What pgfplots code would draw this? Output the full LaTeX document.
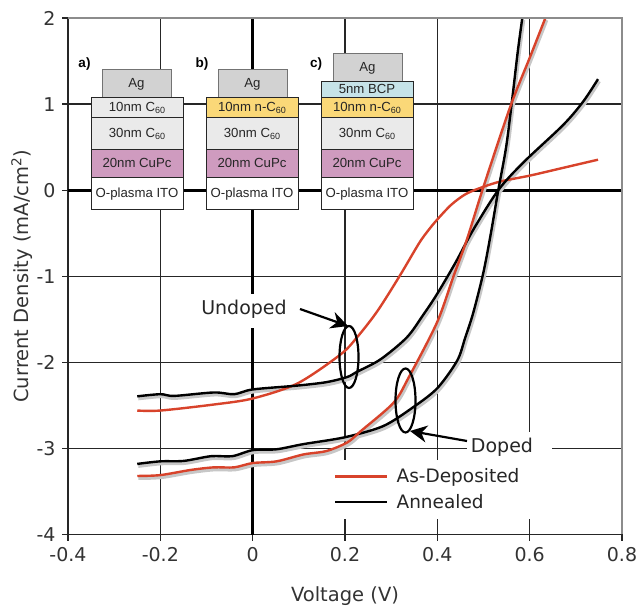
\documentclass[border=0pt]{standalone}
\usepackage{pgfplots}
\pgfplotsset{compat=1.18}
\usepackage{fontspec}
\setmainfont{DejaVu Sans}
\newfontfamily\ar{Liberation Sans}
\usetikzlibrary{arrows.meta}
\definecolor{cred}{HTML}{D8432B}
\definecolor{cag}{HTML}{D2D2D2}
\definecolor{cc}{HTML}{EAEAEA}
\definecolor{cp}{HTML}{CF9BBF}
\definecolor{cn}{HTML}{FAD878}
\definecolor{cb}{HTML}{C6E3E8}
\pgfplotstableread{
x y
-0.25 -2.56
-0.2 -2.56
-0.084 -2.49
0 -2.42
0.097 -2.245
0.19 -1.91
0.226 -1.71
0.27 -1.406
0.318 -1.0
0.36 -0.62
0.38 -0.47
0.40 -0.34
0.43 -0.17
0.46 -0.05
0.49 0.02
0.536 0.10
0.601 0.17
0.673 0.26
0.748 0.354
}\undepo
\pgfplotstableread{
x y
-0.25 -2.395
-0.2 -2.37
-0.17 -2.39
-0.084 -2.35
-0.04 -2.37
0 -2.315
0.097 -2.27
0.16 -2.23
0.205 -2.17
0.226 -2.11
0.277 -1.965
0.334 -1.71
0.37 -1.444
0.399 -1.21
0.439 -0.845
0.478 -0.458
0.532 0
0.586 0.32
0.673 0.76
0.716 1.03
0.748 1.29
}\unann
\pgfplotstableread{
x y
-0.25 -3.32
-0.2 -3.31
-0.134 -3.25
-0.084 -3.22
-0.04 -3.22
0 -3.17
0.052 -3.15
0.11 -3.07
0.16 -3.03
0.205 -2.93
0.234 -2.8
0.305 -2.47
0.338 -2.175
0.399 -1.54
0.435 -1.0
0.464 -0.574
0.5 0.04
0.558 0.97
0.601 1.55
0.634 2
}\dodepo
\pgfplotstableread{
x y
-0.25 -3.18
-0.2 -3.15
-0.149 -3.145
-0.09 -3.09
-0.044 -3.09
0 -3.02
0.052 -3.01
0.11 -2.95
0.2 -2.87
0.283 -2.74
0.348 -2.52
0.4 -2.3
0.443 -1.98
0.46 -1.72
0.478 -1.42
0.5 -0.95
0.516 -0.5
0.532 0
0.549 0.5
0.562 1.05
0.574 1.6
0.584 2
}\doann
\newcommand{\lay}[6]{\fill[#5] (#1pt,607pt-#3pt) rectangle (#2pt,607pt-#4pt);\draw[line width=0.9pt,black!85] (#1pt,607pt-#3pt) rectangle (#2pt,607pt-#4pt);\node[font=\ar\fontsize{13.2}{14}\selectfont,text=black!85,inner sep=0pt,anchor=base] at ({(#1+#2)/2*1pt},{607pt-(#3+#4)/2*1pt-4.6pt}) {#6};}
\newcommand{\Csub}{C\raisebox{-2pt}{\fontsize{9}{9}\selectfont 60}}
\newcommand{\ag}[4]{\fill[cag] (#1pt,607pt-#3pt) rectangle (#2pt,607pt-#4pt);\draw[line width=0.9pt,black!55] (#1pt,607pt-#4pt)--(#1pt,607pt-#3pt)--(#2pt,607pt-#3pt)--(#2pt,607pt-#4pt);\node[font=\ar\fontsize{13.2}{14}\selectfont,text=black!85,inner sep=0pt,anchor=base] at ({(#1+#2)/2*1pt},{607pt-(#3+#4)/2*1pt-4.6pt}) {Ag};}
\begin{document}
\begin{tikzpicture}[x=1pt,y=1pt]
\path[use as bounding box] (0,0) rectangle (639pt,607pt);
\begin{axis}[
  at={(68pt,72.5pt)},anchor=south west,scale only axis,width=554pt,height=516.5pt,
  xmin=-0.4,xmax=0.8,ymin=-4,ymax=2,
  xtick={-0.4,-0.2,0,0.2,0.4,0.6,0.8},
  xticklabels={-0.4,-0.2,0,0.2,0.4,0.6,0.8},
  ytick={-4,-3,-2,-1,0,1,2},
  yticklabels={-4,-3,-2,-1,0,1,2},
  tick pos=left,
  tick label style={font=\fontsize{19}{20}\selectfont,text=black!80},
  xticklabel style={yshift=-3pt},
  yticklabel style={xshift=-3pt},
  label style={font=\fontsize{19.5}{20}\selectfont,text=black!80},
  xlabel={Voltage (V)},
  ylabel={Current Density (mA/cm\textsuperscript{2})},
  xlabel style={at={(axis description cs:0.5,0)},anchor=base,yshift=-66.5pt},
  ylabel style={at={(axis description cs:0,0.5)},anchor=base,yshift=39pt},
  grid=major,
  grid style={line width=1.2pt,black!85},
  axis line style={line width=1.3pt,black!85},
  tick style={line width=1.2pt,black!85},
  tick align=outside,
  major tick length=6pt,
  extra x ticks={0},extra y ticks={0},
  extra x tick labels={},extra y tick labels={},
  extra tick style={grid style={line width=3.2pt,black}},
  line join=round,
  legend style={at={(rel axis cs:0,0)},anchor=south west,xshift=265pt,yshift=15.5pt,draw=none,fill=white,
    font=\fontsize{18.5}{20}\selectfont,text=black!85,inner xsep=1pt,inner ysep=7pt,
    row sep=6pt,cells={anchor=west},text width=139pt},
  legend cell align=left,
  legend image code/.code={\draw[#1,line width=2.4pt] (0pt,0pt)--(52pt,0pt);\path (58pt,0pt);},
  clip=true,
]
\addplot[forget plot,black!22,line width=4pt,smooth,tension=0.5,xshift=1pt,yshift=-2pt] table {\dodepo};
\addplot[forget plot,black!22,line width=4pt,smooth,tension=0.5,xshift=1pt,yshift=-2pt] table {\doann};
\addplot[forget plot,black!22,line width=4pt,smooth,tension=0.5,xshift=1pt,yshift=-2pt] table {\unann};
\addplot[cred,line width=2.4pt,smooth,tension=0.5] table {\undepo};
\addlegendentry{As-Deposited}
\addplot[black,line width=2.4pt,smooth,tension=0.5] table {\unann};
\addlegendentry{Annealed}
\addplot[forget plot,black,line width=2.4pt,smooth,tension=0.5] table {\doann};
\addplot[forget plot,cred,line width=2.4pt,smooth,tension=0.5] table {\dodepo};
\end{axis}
% frame top and right
\draw[line width=1.5pt,black!45] (68pt,607pt-18pt)--(622pt,607pt-18pt)--(622pt,607pt-534.5pt);
% label patches
\fill[white] (198pt,607pt-294pt) rectangle (292pt,607pt-328pt);
\fill[white] (467pt,607pt-432pt) rectangle (552pt,607pt-465pt);
\node[font=\fontsize{19}{20}\selectfont,text=black!85,inner sep=0pt] at (244pt,607pt-309pt) {Undoped};
\node[font=\fontsize{19}{20}\selectfont,text=black!85,inner sep=0pt] at (502pt,607pt-447pt) {Doped};
% ellipses and arrows
\draw[line width=2.2pt,black] (349pt,607pt-357pt) ellipse (9.5pt and 31pt);
\draw[line width=2.2pt,black] (405.5pt,607pt-400.5pt) ellipse (10pt and 32pt);
\draw[line width=2.2pt,black,-{Stealth[length=17pt,width=17pt]}] (300pt,607pt-309pt)--(348pt,607pt-326pt);
\draw[line width=2.2pt,black,-{Stealth[length=17pt,width=17pt]}] (467pt,607pt-441pt)--(410pt,607pt-431pt);
% stacks
\ag{102}{171}{69}{97}
\lay{91}{183}{97}{117}{cc}{10nm \Csub}
\lay{91}{183}{117}{149}{cc}{30nm \Csub}
\lay{91}{183}{149}{177}{cp}{20nm CuPc}
\lay{91}{183}{177}{209}{white}{O-plasma ITO}
\ag{218}{287}{69}{97}
\lay{206}{298}{97}{117}{cn}{10nm n-\Csub}
\lay{206}{298}{117}{149}{cc}{30nm \Csub}
\lay{206}{298}{149}{177}{cp}{20nm CuPc}
\lay{206}{298}{177}{209}{white}{O-plasma ITO}
\ag{333}{402}{53}{81}
\lay{321}{413}{81}{97}{cb}{5nm BCP}
\lay{321}{413}{97}{117}{cn}{10nm n-\Csub}
\lay{321}{413}{117}{149}{cc}{30nm \Csub}
\lay{321}{413}{149}{177}{cp}{20nm CuPc}
\lay{321}{413}{177}{209}{white}{O-plasma ITO}
\node[font=\ar\bfseries\fontsize{13.5}{14}\selectfont,inner sep=0pt] at (84.5pt,607pt-64.5pt) {a)};
\node[font=\ar\bfseries\fontsize{13.5}{14}\selectfont,inner sep=0pt] at (202pt,607pt-64.5pt) {b)};
\node[font=\ar\bfseries\fontsize{13.5}{14}\selectfont,inner sep=0pt] at (316pt,607pt-64.5pt) {c)};
\end{tikzpicture}
\end{document}
